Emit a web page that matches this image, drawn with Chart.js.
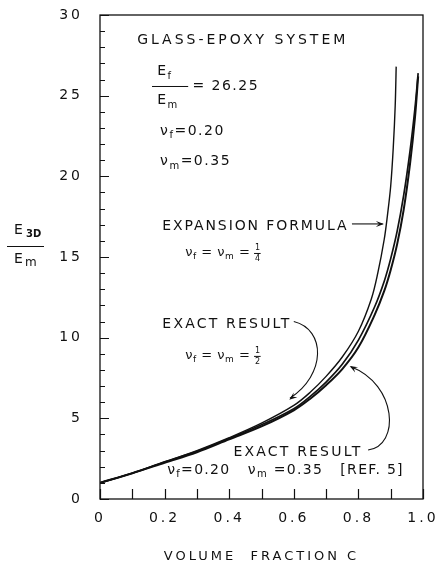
<!DOCTYPE html>
<html>
<head>
<meta charset="utf-8">
<script src="https://cdn.jsdelivr.net/npm/chart.js@4"></script>
<style>
  html, body { margin: 0; padding: 0; background: #fff; }
  canvas { display: block; }
</style>
</head>
<body>
<canvas id="chart-modulus" width="436" height="564"></canvas>
<script>
'use strict';

//
// Data
//

var cExact = [0, 0.1, 0.2, 0.3, 0.4, 0.5, 0.6, 0.65, 0.7, 0.75, 0.8, 0.85, 0.88, 0.9, 0.92, 0.94, 0.96, 0.975, 0.985];
var exactRef5 = [1.0, 1.6, 2.25, 2.9, 3.7, 4.5, 5.5, 6.2, 7.05, 8.05, 9.4, 11.4, 12.9, 14.2, 15.8, 17.9, 20.8, 23.6, 26.2];
var exactHalf = [1.0, 1.6, 2.3, 2.95, 3.75, 4.6, 5.6, 6.35, 7.25, 8.35, 9.85, 11.9, 13.5, 14.9, 16.6, 18.8, 21.6, 24.2, 26.4];

var cExpansion = [0, 0.1, 0.2, 0.3, 0.4, 0.5, 0.6, 0.65, 0.7, 0.75, 0.8, 0.84, 0.86, 0.88, 0.89, 0.9, 0.908, 0.914, 0.917];
var expansion = [1.0, 1.6, 2.3, 3.0, 3.8, 4.7, 5.8, 6.6, 7.6, 8.8, 10.4, 12.4, 14.0, 16.1, 17.6, 19.4, 21.8, 24.4, 26.8];

var xTickLabels = ['0', '0.2', '0.4', '0.6', '0.8', '1.0'];
var yTickLabels = ['0', '5', '10', '15', '20', '25', '30'];

var FONT = '"DejaVu Sans", sans-serif';
var INK = '#111';

function toPoints(xs, ys) {
	return xs.map(function(x, i) { return { x: x, y: ys[i] }; });
}

//
// Helpers for the lettering
//

function rich(ctx, x, y, parts, size) {
	parts.forEach(function(p) {
		if (p.frac) {
			ctx.font = Math.round(size * 0.6) + 'px ' + FONT;
			var w = ctx.measureText(p.frac[1]).width;
			ctx.fillText(p.frac[0], x, y - size * 0.42);
			ctx.fillText(p.frac[1], x, y + size * 0.45);
			ctx.fillRect(x - 1, y, w + 1, 1);
			x += w + 2;
			return;
		}
		var fs = p.sub ? Math.round(size * 0.68) : size;
		ctx.font = fs + 'px ' + FONT;
		var dy = p.sub ? size * 0.32 : 0;
		ctx.fillText(p.t, x, y + dy);
		x += ctx.measureText(p.t).width;
	});
	return x;
}

function arrowHead(ctx, x, y, angle) {
	var len = 8, half = 3;
	ctx.save();
	ctx.translate(x, y);
	ctx.rotate(angle);
	ctx.beginPath();
	ctx.moveTo(0, 0);
	ctx.lineTo(-len, -half);
	ctx.lineTo(-len * 0.6, 0);
	ctx.lineTo(-len, half);
	ctx.closePath();
	ctx.fill();
	ctx.restore();
}

//
// Annotation plugin: frame, inward ticks, notes
//

var notesPlugin = {
	id: 'notes',
	beforeDraw: function(chart) {
		chart.ctx.letterSpacing = '3px';
	},
	afterDraw: function(chart) {
		var ctx = chart.ctx;
		var a = chart.chartArea;
		var xs = chart.scales.x;
		var ys = chart.scales.y;
		var px = function(v) { return xs.getPixelForValue(v); };
		var py = function(v) { return ys.getPixelForValue(v); };

		ctx.save();
		ctx.strokeStyle = INK;
		ctx.fillStyle = INK;
		ctx.lineWidth = 1.3;
		ctx.strokeRect(a.left, a.top, a.right - a.left, a.bottom - a.top);

		// ticks pointing into the plot
		ctx.lineWidth = 1.2;
		ctx.beginPath();
		ys.ticks.forEach(function(t) {
			var y = Math.round(py(t.value)) + 0.5;
			var len = t.value % 5 === 0 ? 9 : 5;
			ctx.moveTo(a.left, y);
			ctx.lineTo(a.left + len, y);
		});
		xs.ticks.forEach(function(t) {
			var x = Math.round(px(t.value)) + 0.5;
			ctx.moveTo(x, a.bottom);
			ctx.lineTo(x, a.bottom - 10);
		});
		ctx.stroke();

		ctx.textBaseline = 'middle';
		ctx.textAlign = 'left';

		// y title
		var yc = py(15);
		ctx.letterSpacing = '0px';
		ctx.font = '14px ' + FONT;
		ctx.fillText('E', 14, yc - 27);
		ctx.font = 'bold 10px ' + FONT;
		ctx.fillText('3D', 26, yc - 23);
		ctx.fillRect(7, yc - 11, 37, 1);
		ctx.font = '14px ' + FONT;
		ctx.fillText('E', 14, yc + 2);
		ctx.font = '12px ' + FONT;
		ctx.fillText('m', 25, yc + 6);

		ctx.letterSpacing = '3px';
		ctx.font = '14px ' + FONT;
		ctx.fillText('GLASS-EPOXY SYSTEM', px(0.115), py(28.45));

		ctx.letterSpacing = '1.5px';
		rich(ctx, px(0.177), py(26.5), [{ t: 'E' }, { t: 'f', sub: true }], 14);
		ctx.fillRect(px(0.161), py(25.6), px(0.273) - px(0.161), 1);
		rich(ctx, px(0.177), py(24.7), [{ t: 'E' }, { t: 'm', sub: true }], 14);
		rich(ctx, px(0.286), py(25.6), [{ t: '= 26.25' }], 14);

		ctx.letterSpacing = '1.5px';
		rich(ctx, px(0.186), py(22.8), [{ t: 'ν' }, { t: 'f', sub: true }, { t: '=0.20' }], 14);
		rich(ctx, px(0.186), py(20.9), [{ t: 'ν' }, { t: 'm', sub: true }, { t: '=0.35' }], 14);

		ctx.letterSpacing = '1.9px';
		ctx.font = '14px ' + FONT;
		ctx.fillText('EXPANSION FORMULA', px(0.193), py(16.93));
		ctx.letterSpacing = '0.5px';
		rich(ctx, px(0.264), py(15.25), [{ t: 'ν' }, { t: 'f', sub: true }, { t: ' = ' }, { t: 'ν' }, { t: 'm', sub: true }, { t: ' = ' }, { frac: ['1', '4'] }], 13);

		ctx.letterSpacing = '2.2px';
		ctx.font = '14px ' + FONT;
		ctx.fillText('EXACT RESULT', px(0.193), py(10.85));
		ctx.letterSpacing = '0.5px';
		rich(ctx, px(0.264), py(8.87), [{ t: 'ν' }, { t: 'f', sub: true }, { t: ' = ' }, { t: 'ν' }, { t: 'm', sub: true }, { t: ' = ' }, { frac: ['1', '2'] }], 13);

		ctx.letterSpacing = '2.2px';
		ctx.font = '14px ' + FONT;
		ctx.fillText('EXACT RESULT', px(0.413), py(2.91));
		ctx.letterSpacing = '1.3px';
		rich(ctx, px(0.208), py(1.8), [{ t: 'ν' }, { t: 'f', sub: true }, { t: '=0.20   ' }, { t: 'ν' }, { t: 'm', sub: true }, { t: ' =0.35   [REF. 5]' }], 14);

		// arrows
		ctx.lineWidth = 1.1;
		ctx.beginPath();
		ctx.moveTo(px(0.78), py(17.05));
		ctx.lineTo(px(0.875), py(17.05));
		ctx.stroke();
		arrowHead(ctx, px(0.879), py(17.05), 0);

		ctx.beginPath();
		ctx.moveTo(px(0.6), py(11.0));
		ctx.bezierCurveTo(px(0.7), py(10.5), px(0.7), py(7.7), px(0.588), py(6.25));
		ctx.stroke();
		arrowHead(ctx, px(0.586), py(6.15), Math.atan2(py(6.15) - py(7.0), px(0.586) - px(0.64)));

		ctx.beginPath();
		ctx.moveTo(px(0.83), py(3.04));
		ctx.bezierCurveTo(px(0.93), py(3.3), px(0.92), py(7.1), px(0.777), py(8.2));
		ctx.stroke();
		arrowHead(ctx, px(0.773), py(8.25), Math.atan2(py(8.25) - py(7.7), px(0.773) - px(0.82)));

		ctx.restore();
		ctx.letterSpacing = '0px';
	}
};

//
// Chart
//

var ModulusChart = (function() {

	var canvas = document.getElementById('chart-modulus');

	function init(el) {
		var chart = new Chart(el, {
			type: 'scatter',
			data: {
				datasets: [{
					label: 'Expansion formula',
					data: toPoints(cExpansion, expansion),
					borderColor: INK,
					borderWidth: 1.4
				}, {
					label: 'Exact result, nu = 1/2',
					data: toPoints(cExact, exactHalf),
					borderColor: INK,
					borderWidth: 1.7
				}, {
					label: 'Exact result [Ref. 5]',
					data: toPoints(cExact, exactRef5),
					borderColor: INK,
					borderWidth: 2
				}]
			},
			options: {
				responsive: false,
				animation: false,
				showLine: true,
				layout: { padding: { top: 15, right: 13, left: 0, bottom: 0 } },
				elements: {
					point: { radius: 0, hoverRadius: 0 },
					line: { tension: 0.35, fill: false }
				},
				plugins: {
					legend: { display: false },
					tooltip: { enabled: false }
				},
				scales: {
					x: {
						type: 'linear',
						min: 0,
						max: 1,
						grid: { display: false, drawTicks: false },
						border: { display: false },
						ticks: {
							stepSize: 0.1,
							autoSkip: false,
							maxRotation: 0,
							padding: 11,
							color: INK,
							font: { family: FONT, size: 14 },
							callback: function(v) {
								var k = Math.round(v * 10);
								return k % 2 === 0 ? xTickLabels[k / 2] : '';
							}
						},
						title: {
							display: true,
							text: 'VOLUME  FRACTION C',
							color: INK,
							font: { family: FONT, size: 13 },
							padding: { top: 0, bottom: 0 }
						},
						afterFit: function(s) {
							s.height = 65;
							s.paddingLeft = 0;
							s.paddingRight = 0;
						}
					},
					y: {
						type: 'linear',
						min: 0,
						max: 30,
						grid: { display: false, drawTicks: false },
						border: { display: false },
						ticks: {
							stepSize: 1,
							autoSkip: false,
							padding: 17,
							color: INK,
							font: { family: FONT, size: 14 },
							callback: function(v) {
								return v % 5 === 0 ? yTickLabels[v / 5] : '';
							}
						},
						afterFit: function(s) {
							s.width = 100;
							s.paddingTop = 0;
							s.paddingBottom = 0;
						}
					}
				}
			},
			plugins: [notesPlugin]
		});

		el.chart = chart;
	}

	if (canvas) {
		init(canvas);
	}

})();
</script>
</body>
</html>
